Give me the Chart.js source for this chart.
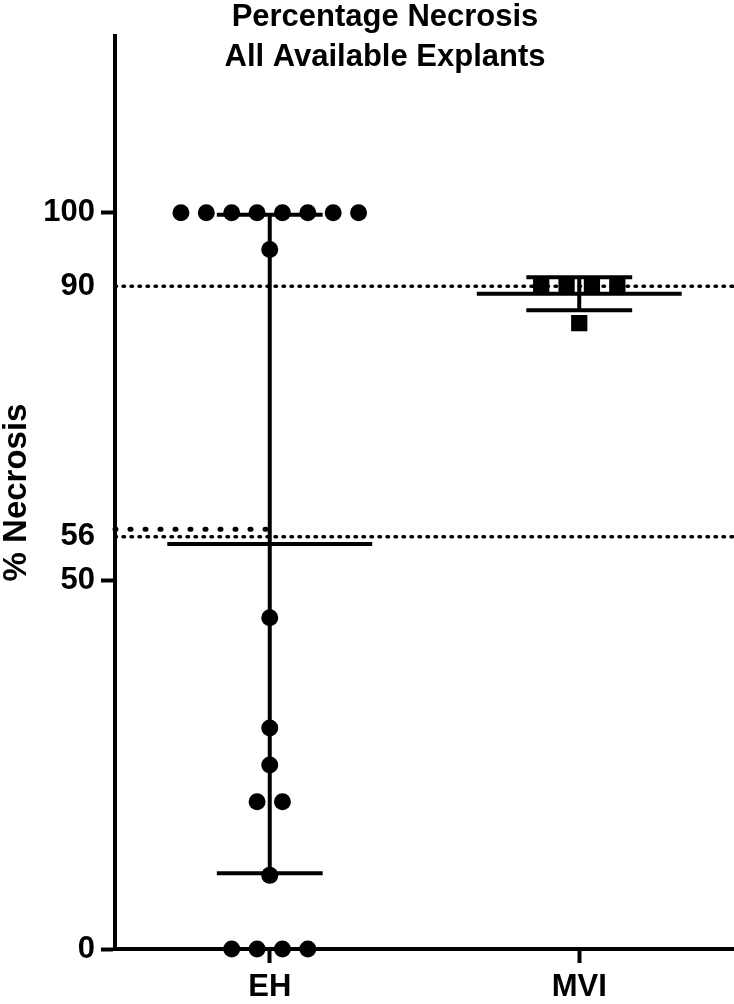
<!DOCTYPE html>
<html>
<head>
<meta charset="utf-8">
<title>Percentage Necrosis</title>
<script src="https://cdn.jsdelivr.net/npm/chart.js@4.4.0/dist/chart.umd.min.js"></script>
<style>
  html, body { margin: 0; padding: 0; background: #fff; overflow: hidden; }
  #necrosis { display: block; }
</style>
</head>
<body>
<canvas id="necrosis" width="734" height="1004"></canvas>
<script>
// data
var categories = ['EH', 'MVI'];
var ehValues = [100, 100, 100, 100, 100, 100, 100, 100, 95, 45, 30, 25, 20, 20, 10, 0, 0, 0, 0];
var mviValues = [90, 90, 90, 90, 85];
var yTicks = [0, 50, 56, 90, 100];
var yTickMarks = [0, 50, 100];
var refLines = [90, 56];
var ehRefLine = 57;
var titleLines = ['Percentage Necrosis', 'All Available Explants'];

var FONT = '"Liberation Sans", Arial, Helvetica, sans-serif';
var STEP = 0.082;       // sideways spacing of tied points, x units
var MEAN_HALF = 0.331;  // half width of the mean line
var CAP_HALF = 0.171;   // half width of the SD caps

function mean(a) {
    var s = 0;
    a.forEach(function(v) { s += v; });
    return s / a.length;
}

function sd(a) {
    var m = mean(a), s = 0;
    a.forEach(function(v) { s += (v - m) * (v - m); });
    return Math.sqrt(s / (a.length - 1));
}

// equal values get spread out sideways round the column centre
function swarm(values, center) {
    var counts = {}, seen = {};
    values.forEach(function(v) { counts[v] = (counts[v] || 0) + 1; });
    return values.map(function(v) {
        seen[v] = seen[v] === undefined ? 0 : seen[v] + 1;
        return {x: center + (seen[v] - (counts[v] - 1) / 2) * STEP, y: v};
    });
}

// mean line + SD whiskers, null breaks the line between pieces
function errorBars(values, center) {
    var m = mean(values), s = sd(values);
    return [
        {x: center - MEAN_HALF, y: m}, {x: center + MEAN_HALF, y: m}, {x: center, y: null},
        {x: center, y: m - s}, {x: center, y: m + s}, {x: center, y: null},
        {x: center - CAP_HALF, y: m + s}, {x: center + CAP_HALF, y: m + s}, {x: center, y: null},
        {x: center - CAP_HALF, y: m - s}, {x: center + CAP_HALF, y: m - s}
    ];
}

function barSet(values, center) {
    return {
        data: errorBars(values, center),
        showLine: true, spanGaps: false,
        borderColor: '#000', borderWidth: 4,
        pointRadius: 0, order: 1, clip: false
    };
}

function dottedLine(y, x0, x1, width, dash) {
    return {
        data: [{x: x0, y: y}, {x: x1, y: y}],
        showLine: true,
        borderColor: '#000', borderWidth: width,
        borderDash: dash, borderCapStyle: 'round',
        pointRadius: 0, order: 2, clip: false
    };
}

var datasets = [
    {
        label: categories[0],
        data: swarm(ehValues, 0),
        pointStyle: 'circle', pointRadius: 8.5,
        backgroundColor: '#000', borderWidth: 0,
        order: 0, clip: false
    },
    {
        label: categories[1],
        data: swarm(mviValues, 1),
        pointStyle: 'rect', pointRadius: 11.5,
        backgroundColor: '#000', borderWidth: 0,
        order: 0, clip: false
    },
    barSet(ehValues, 0),
    barSet(mviValues, 1)
];
refLines.forEach(function(v) {
    datasets.push(dottedLine(v, -0.5, 1.5, 3.5, [1.5, 6.5]));
});
datasets.push(dottedLine(ehRefLine, -0.5, 0, 5, [1, 14]));

var titlePlugin = {
    id: 'twoLineTitle',
    afterDraw: function(chart) {
        var ctx = chart.ctx;
        ctx.save();
        ctx.font = 'bold 31px ' + FONT;
        ctx.fillStyle = '#000';
        ctx.textAlign = 'center';
        ctx.textBaseline = 'alphabetic';
        ctx.fillText(titleLines[0], 385, 26);
        ctx.fillText(titleLines[1], 385, 66);
        ctx.restore();
    }
};

var ctx = document.getElementById('necrosis').getContext('2d');
var chart = new Chart(ctx, {
    type: 'scatter',
    data: {datasets: datasets},
    plugins: [titlePlugin],
    options: {
        responsive: false,
        animation: false,
        events: [],
        layout: {
            autoPadding: false,
            padding: {top: 36, left: 0, right: 0, bottom: 0}
        },
        plugins: {
            legend: {display: false},
            tooltip: {enabled: false}
        },
        scales: {
            x: {
                type: 'linear', min: -0.5, max: 1.5,
                afterBuildTicks: function(s) {
                    s.ticks = categories.map(function(c, i) { return {value: i}; });
                },
                afterFit: function(s) {
                    s.height = 55;
                    s.paddingLeft = 0;
                    s.paddingRight = 0;
                },
                ticks: {
                    callback: function(v) { return categories[v]; },
                    color: '#000', padding: 6, autoSkip: false, maxRotation: 0,
                    font: {family: FONT, size: 31, weight: 'bold'}
                },
                grid: {drawOnChartArea: false, tickLength: 14, tickWidth: 4, tickColor: '#000'},
                border: {color: '#000', width: 4}
            },
            y: {
                type: 'linear', min: 0, max: 124,
                afterBuildTicks: function(s) {
                    s.ticks = yTicks.map(function(v) { return {value: v}; });
                },
                afterFit: function(s) { s.width = 115; },
                ticks: {
                    color: '#000', padding: 6, autoSkip: false,
                    font: {family: FONT, size: 31, weight: 'bold'}
                },
                grid: {
                    drawOnChartArea: false, tickLength: 14, tickWidth: 4,
                    tickColor: function(c) {
                        return c.tick && yTickMarks.indexOf(c.tick.value) >= 0 ? '#000' : 'rgba(0,0,0,0)';
                    }
                },
                border: {color: '#000', width: 4},
                title: {
                    display: true, text: '% Necrosis', color: '#000', padding: 0,
                    font: {family: FONT, size: 33, weight: 'bold', lineHeight: 1}
                }
            }
        }
    }
});
</script>
</body>
</html>
